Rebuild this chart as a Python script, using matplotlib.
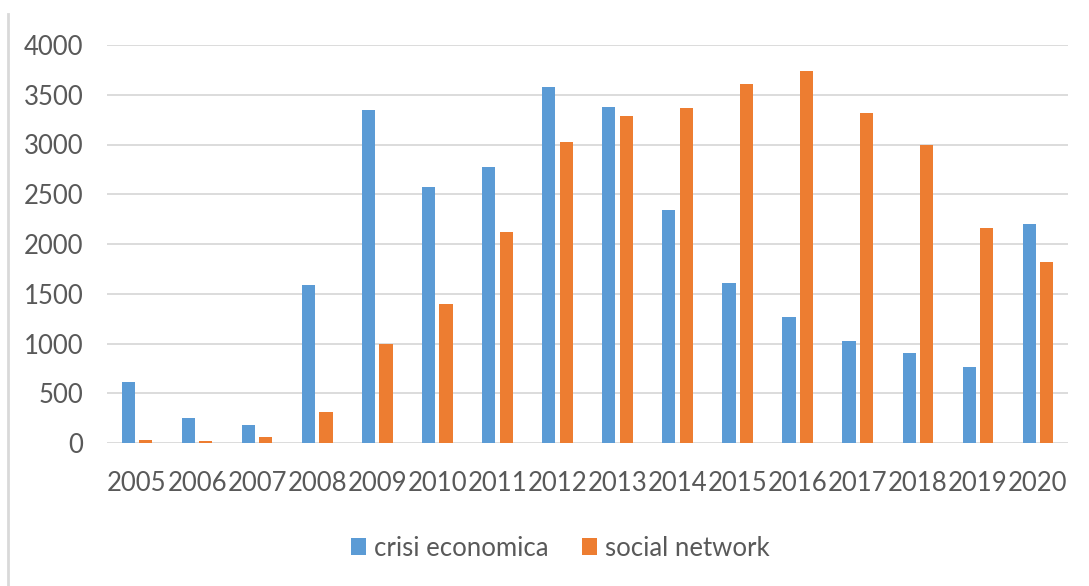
import matplotlib
matplotlib.use("Agg")
import matplotlib.pyplot as plt
import numpy as np
from matplotlib.lines import Line2D

years = ["2005", "2006", "2007", "2008", "2009", "2010", "2011", "2012",
         "2013", "2014", "2015", "2016", "2017", "2018", "2019", "2020"]
crisi_economica = [615, 250, 180, 1590, 3350, 2570, 2775, 3575,
                   3380, 2345, 1605, 1270, 1030, 900, 760, 2200]
social_network = [30, 25, 60, 310, 1000, 1400, 2120, 3030,
                  3285, 3365, 3605, 3735, 3320, 3000, 2165, 1815]
yticks = [0, 500, 1000, 1500, 2000, 2500, 3000, 3500, 4000]

blue = "#5b9bd5"
orange = "#ed7d31"
txt = "#595959"

plt.rcParams['font.family'] = ['Lato', 'DejaVu Sans']

fig = plt.figure(figsize=(10.89, 5.86), dpi=100)
ax = fig.add_axes([107/1089, 1-443/586, (1068-107)/1089, (443-45)/586])

x = np.arange(len(years))
w = 0.22
ax.bar(x - w/2 - 0.035, crisi_economica, width=w, color=blue, label="crisi economica", zorder=3)
ax.bar(x + w/2 + 0.035, social_network, width=w, color=orange, label="social network", zorder=3)

ax.set_xlim(-0.5, len(years) - 0.5)
ax.set_ylim(0, 4000)
ax.set_yticks(yticks)
ax.set_yticklabels([str(v) for v in yticks])
ax.set_xticks(x)
ax.set_xticklabels(years)
ax.tick_params(axis='both', length=0, labelsize=18.5, colors=txt)
ax.tick_params(axis='y', pad=17)
ax.tick_params(axis='x', pad=20)
ax.grid(axis='y', color="#d9d9d9", linewidth=1.3, zorder=0)
for s in ax.spines.values():
    s.set_visible(False)

leg = fig.legend(loc='center', bbox_to_anchor=(560/1089, 1-548/586), ncol=2, frameon=False,
                 fontsize=18.5, handlelength=0.6, handleheight=0.6, columnspacing=1.3,
                 handletextpad=0.3)
for t in leg.get_texts():
    t.set_color(txt)

fig.add_artist(Line2D([8/1089, 8/1089], [0, 1-14/586], transform=fig.transFigure,
                      color="#d9d9d9", linewidth=2))

fig.savefig("out.png", dpi=100)
